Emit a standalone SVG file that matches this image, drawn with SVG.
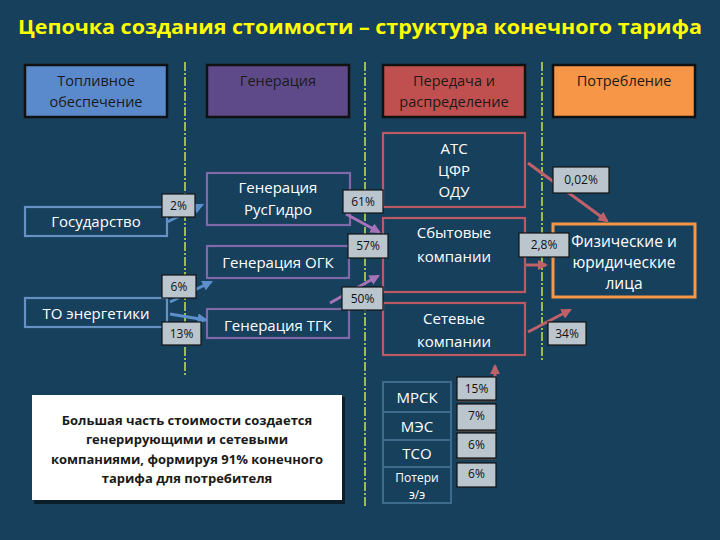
<svg xmlns="http://www.w3.org/2000/svg" width="720" height="540" viewBox="0 0 720 540">
<defs>
<style>
.t{font-family:"Open Sans","DejaVu Sans",sans-serif;font-size:14.5px;text-anchor:middle}
.hd{fill:#1a1a1a}
.w{fill:#ffffff}
.hbox{stroke:#111111;stroke-width:2.5}
.nb{fill:none;stroke:#6790C4;stroke-width:2.2}
.np{fill:none;stroke:#7F69A9;stroke-width:2.2}
.nr{fill:none;stroke:#BC5A63;stroke-width:2.2}
.pl{fill:#BAC5CD;stroke:#111;stroke-width:1.2}
.pt{font-family:"Open Sans","DejaVu Sans",sans-serif;font-size:12px;fill:#111;text-anchor:middle}
.vl{stroke:#C9E54C;stroke-width:1.5;stroke-dasharray:9 2 2 2;fill:none}
.ab{stroke:#5C8FCB;stroke-width:3;fill:none}
.ap{stroke:#A673B8;stroke-width:3;fill:none}
.ar{stroke:#C0616A;stroke-width:3;fill:none}
</style>
<marker id="mb" viewBox="0 0 10 10" refX="8" refY="5" markerWidth="3.5" markerHeight="3.5" orient="auto"><path d="M0,0 L10,5 L0,10 z" fill="#5C8FCB"/></marker>
<marker id="mp" viewBox="0 0 10 10" refX="8" refY="5" markerWidth="3.5" markerHeight="3.5" orient="auto"><path d="M0,0 L10,5 L0,10 z" fill="#A673B8"/></marker>
<marker id="mr" viewBox="0 0 10 10" refX="8" refY="5" markerWidth="3.5" markerHeight="3.5" orient="auto"><path d="M0,0 L10,5 L0,10 z" fill="#C0616A"/></marker>
</defs>
<rect x="0" y="0" width="720" height="540" fill="#17405D"/>
<text x="360" y="34" font-family="Open Sans, DejaVu Sans, sans-serif" font-size="20" font-weight="bold" fill="#FFFF00" text-anchor="middle" textLength="684" lengthAdjust="spacingAndGlyphs">Цепочка создания стоимости – структура конечного тарифа</text>

<g id="dividers">
<line class="vl" x1="185" y1="62" x2="185" y2="376"/>
<line class="vl" x1="365" y1="62" x2="365" y2="507"/>
<line class="vl" x1="542" y1="62" x2="542" y2="362"/>
</g>

<g id="h-fuel"><rect class="hbox" x="25" y="65" width="142" height="52" fill="#5A8ACB"/><text class="t hd" x="96" y="86">Топливное</text><text class="t hd" x="96" y="107">обеспечение</text></g>
<g id="h-gen"><rect class="hbox" x="207" y="65" width="142" height="52" fill="#5F4A89"/><text class="t hd" x="278" y="86">Генерация</text></g>
<g id="h-trans"><rect class="hbox" x="383" y="65" width="142" height="52" fill="#C0504F"/><text class="t hd" x="454" y="86">Передача и</text><text class="t hd" x="454" y="107">распределение</text></g>
<g id="h-cons"><rect class="hbox" x="553" y="65" width="142" height="52" fill="#F79646"/><text class="t hd" x="624" y="86">Потребление</text></g>

<g id="n-gos"><rect class="nb" x="25" y="207" width="142" height="29"/><text class="t w" x="96" y="227" style="font-size:15px">Государство</text></g>
<g id="n-to"><rect class="nb" x="25" y="298" width="142" height="29"/><text class="t w" x="96" y="319" style="font-size:15px">ТО энергетики</text></g>
<g id="n-rus"><rect class="np" x="207" y="173" width="143" height="52"/><text class="t w" x="278" y="193" style="font-size:15px">Генерация</text><text class="t w" x="278" y="215" style="font-size:15px">РусГидро</text></g>
<g id="n-ogk"><rect class="np" x="207" y="246" width="142" height="32"/><text class="t w" x="278" y="268" style="font-size:15px">Генерация ОГК</text></g>
<g id="n-tgk"><rect class="np" x="207" y="309" width="142" height="29"/><text class="t w" x="278" y="331" style="font-size:15px">Генерация ТГК</text></g>
<g id="n-ats"><rect class="nr" x="383" y="133" width="142" height="74"/><text class="t w" x="454" y="154" style="font-size:15px">АТС</text><text class="t w" x="454" y="176" style="font-size:15px">ЦФР</text><text class="t w" x="454" y="197" style="font-size:15px">ОДУ</text></g>
<g id="n-sbyt"><rect class="nr" x="383" y="218" width="142" height="74"/><text class="t w" x="454" y="238" style="font-size:15px">Сбытовые</text><text class="t w" x="454" y="262" style="font-size:15px">компании</text></g>
<g id="n-set"><rect class="nr" x="383" y="303" width="142" height="52"/><text class="t w" x="454" y="324" style="font-size:15px">Сетевые</text><text class="t w" x="454" y="347" style="font-size:15px">компании</text></g>
<g id="n-fiz"><rect x="553" y="224" width="142" height="73" fill="none" stroke="#F79646" stroke-width="3"/><text class="t w" x="624" y="247" style="font-size:15.5px">Физические и</text><text class="t w" x="624" y="268" style="font-size:15.5px">юридические</text><text class="t w" x="624" y="289" style="font-size:15.5px">лица</text></g>

<g id="n-table">
<rect x="383" y="382" width="68" height="121" fill="none" stroke="#3E6B8C" stroke-width="2"/>
<line x1="383" y1="412" x2="451" y2="412" stroke="#3E6B8C" stroke-width="2"/>
<line x1="383" y1="440" x2="451" y2="440" stroke="#3E6B8C" stroke-width="2"/>
<line x1="383" y1="467" x2="451" y2="467" stroke="#3E6B8C" stroke-width="2"/>
<text class="t w" x="417" y="403" style="font-size:15px">МРСК</text>
<text class="t w" x="417" y="432" style="font-size:15px">МЭС</text>
<text class="t w" x="417" y="459" style="font-size:15px">ТСО</text>
<text class="t w" x="417" y="482" style="font-size:12px">Потери</text>
<text class="t w" x="417" y="499" style="font-size:12px">э/э</text>
</g>

<g id="n-callout">
<rect x="34" y="397" width="311" height="107" fill="#0b1e2a"/>
<rect x="32" y="395" width="310" height="105" fill="#ffffff"/>
<g font-family="Open Sans, DejaVu Sans, sans-serif" font-size="13" font-weight="bold" fill="#1a1a1a" text-anchor="middle">
<text x="187" y="425">Большая часть стоимости создается</text>
<text x="187" y="444">генерирующими и сетевыми</text>
<text x="187" y="464">компаниями, формируя 91% конечного</text>
<text x="187" y="483">тарифа для потребителя</text>
</g>
</g>

<g id="connectors">
<line class="ab" x1="167" y1="222" x2="202" y2="205" marker-end="url(#mb)"/>
<line class="ab" x1="170" y1="302" x2="211" y2="282" marker-end="url(#mb)"/>
<line class="ab" x1="170" y1="314" x2="206" y2="320" marker-end="url(#mb)"/>
<line class="ap" x1="346" y1="214" x2="379" y2="232" marker-end="url(#mp)"/>
<line class="ap" x1="330" y1="303" x2="378" y2="276" marker-end="url(#mp)"/>
<line class="ar" x1="528" y1="163" x2="607" y2="221" marker-end="url(#mr)"/>
<line class="ar" x1="526" y1="265" x2="546" y2="265" marker-end="url(#mr)"/>
<line class="ar" x1="528" y1="332" x2="570" y2="310" marker-end="url(#mr)"/>
<line class="ar" x1="495" y1="377" x2="495" y2="366" marker-end="url(#mr)"/>
</g>

<g id="labels">
<rect class="pl" x="162" y="194" width="33" height="23"/><text class="pt" x="178.5" y="210">2%</text>
<rect class="pl" x="162" y="275" width="34" height="23"/><text class="pt" x="179" y="291">6%</text>
<rect class="pl" x="162" y="322" width="39" height="23"/><text class="pt" x="181.5" y="338">13%</text>
<rect class="pl" x="343" y="190" width="40" height="23"/><text class="pt" x="363" y="206">61%</text>
<rect class="pl" x="348" y="234" width="40" height="24"/><text class="pt" x="368" y="250">57%</text>
<rect class="pl" x="342" y="287" width="41" height="23"/><text class="pt" x="362.5" y="303">50%</text>
<rect class="pl" x="553" y="167" width="56" height="26"/><text class="pt" x="581" y="184">0,02%</text>
<rect class="pl" x="519" y="233" width="50" height="24"/><text class="pt" x="544" y="249">2,8%</text>
<rect class="pl" x="548" y="322" width="38" height="23"/><text class="pt" x="567" y="338">34%</text>
<rect x="457" y="378" width="39" height="24" fill="#444"/><rect class="pl" x="457" y="377" width="39" height="23"/><text class="pt" x="476.5" y="393">15%</text>
<rect x="457" y="406" width="39" height="26" fill="#444"/><rect class="pl" x="457" y="404" width="39" height="26"/><text class="pt" x="476.5" y="420">7%</text>
<rect x="457" y="435" width="39" height="25" fill="#444"/><rect class="pl" x="457" y="433" width="39" height="25"/><text class="pt" x="476.5" y="449">6%</text>
<rect class="pl" x="457" y="463" width="39" height="24"/><text class="pt" x="476.5" y="478">6%</text>
</g>
</svg>
